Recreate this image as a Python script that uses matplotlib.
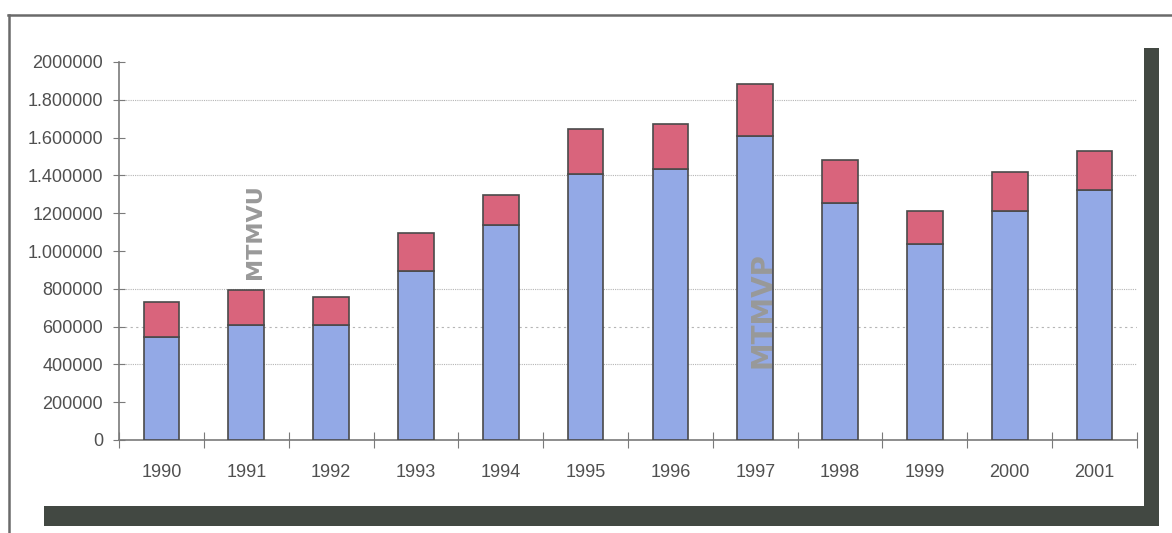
import matplotlib
matplotlib.use("Agg")
import matplotlib.pyplot as plt
from matplotlib.patches import Rectangle
from matplotlib.lines import Line2D
from matplotlib import font_manager

years = ["1990", "1991", "1992", "1993", "1994", "1995", "1996",
         "1997", "1998", "1999", "2000", "2001"]
mtmvu = [546000, 610000, 606000, 896000, 1135000, 1409000, 1435000,
         1610000, 1254000, 1039000, 1210000, 1323000]
totals = [729000, 793000, 759000, 1097000, 1298000, 1647000, 1673000,
          1883000, 1482000, 1210000, 1416000, 1531000]
mtmvp = [t - u for t, u in zip(totals, mtmvu)]
ytick_values = [0, 200000, 400000, 600000, 800000, 1000000, 1200000,
                1400000, 1600000, 1800000, 2000000]
ytick_labels = ["0", "200000", "400000", "600000", "800000", "1.000000",
                "1200000", "1.400000", "1.600000", "1.800000", "2000000"]
grid_values = [400000, 600000, 800000, 1400000, 1800000]

names = {f.name for f in font_manager.fontManager.ttflist}
fam = "Liberation Sans Narrow" if "Liberation Sans Narrow" in names else "Liberation Sans"

W, H = 1172, 533
fig = plt.figure(figsize=(W / 100, H / 100), dpi=100)
fig.patch.set_facecolor("white")

ax = fig.add_axes([119 / W, 93 / H, 1018 / W, 378 / H])
ax.set_facecolor("white")

x = list(range(len(years)))
blue = "#93a9e6"
red = "#d9647c"
edge = "#4a4a4a"
ax.bar(x, mtmvu, width=0.42, color=blue, edgecolor=edge, linewidth=1.2, zorder=3)
ax.bar(x, mtmvp, bottom=mtmvu, width=0.42, color=red, edgecolor=edge,
       linewidth=1.2, zorder=3)

for g in grid_values:
    ls = (0, (2, 3)) if g == 600000 else (0, (1, 1))
    ax.axhline(g, color="#b5b5b5", linewidth=0.8, linestyle=ls, zorder=1)

ax.set_xlim(-0.5, len(years) - 0.5)
ax.set_ylim(0, 2000000)

for s in ["top", "right"]:
    ax.spines[s].set_visible(False)
for s in ["left", "bottom"]:
    ax.spines[s].set_color("#7a7a7a")
    ax.spines[s].set_linewidth(1.2)

ax.set_yticks(ytick_values)
ax.set_yticklabels(ytick_labels, fontfamily=fam, fontsize=13, color="#505050")
ax.tick_params(axis="y", direction="inout", length=9, color="#7a7a7a", pad=7)

ax.set_xticks([i - 0.5 for i in range(len(years) + 1)])
ax.set_xticklabels([])
ax.set_xticks(x, minor=True)
ax.set_xticklabels(years, minor=True, fontfamily=fam, fontsize=13, color="#505050")
ax.tick_params(axis="x", which="major", direction="inout", length=12, color="#7a7a7a")
ax.tick_params(axis="x", which="minor", length=0, pad=17)

ax.text(1.1, 1105000, "MTMVU", rotation=90, ha="center", va="center",
        fontfamily="DejaVu Sans", fontweight="bold", fontsize=16,
        color="#999999", zorder=5)
ax.text(7.09, 690000, "MTMVP", rotation=90, ha="center", va="center",
        fontfamily="DejaVu Sans", fontweight="bold", fontsize=20,
        color="#999999", zorder=5)

# frame lines
fig.add_artist(Line2D([8 / W, 1.0], [1 - 15 / H, 1 - 15 / H], color="#6a6a6a",
                      linewidth=1.8, transform=fig.transFigure))
fig.add_artist(Line2D([9 / W, 9 / W], [0, 1 - 15 / H], color="#6a6a6a",
                      linewidth=1.8, transform=fig.transFigure))
# shadow bars
shadow = "#424842"
fig.add_artist(Rectangle((44 / W, 7 / H), (1159 - 44) / W, 20 / H,
                         facecolor=shadow, edgecolor="none", transform=fig.transFigure))
fig.add_artist(Rectangle((1144 / W, 7 / H), 15 / W, (485 - 7) / H,
                         facecolor=shadow, edgecolor="none", transform=fig.transFigure))

fig.savefig("out.png", dpi=100, facecolor="white")
